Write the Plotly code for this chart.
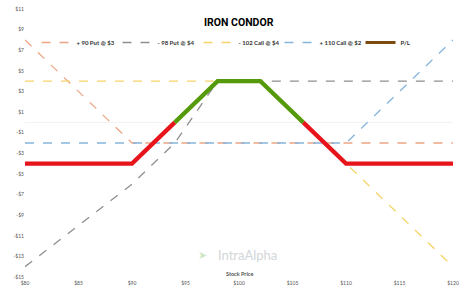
import plotly.graph_objects as go

# Stock prices (x) and payoff values
prices = [80, 90, 94, 98, 102, 106, 110, 120]
put90 = [8, -2, -2, -2, -2, -2, -2, -2]        # + 90 Put
put98 = [-14, -6, -2, 4, 4, 4, 4, 4]           # - 98 Put
call102 = [4, 4, 4, 4, 4, 0, -4, -14]          # - 102 Call
call110 = [-2, -2, -2, -2, -2, -2, -2, 8]      # + 110 Call
pl = [-4, -4, 0, 4, 4, 0, -4, -4]              # P/L

legend_names = ["+ 90 Put @ $3", "- 98 Put @ $4", "- 102 Call @ $4", "+ 110 Call @ $2", "P/L"]
x_ticks = [80, 85, 90, 95, 100, 105, 110, 115, 120]
x_ticktext = ["$80", "$85", "$90", "$95", "$100", "$105", "$110", "$115", "$120"]
y_ticks = [11, 9, 7, 5, 3, 1, -1, -3, -5, -7, -9, -11, -13, -15]
y_ticktext = ["$11", "$9", "$7", "$5", "$3", "$1", "-$1", "-$3", "-$5", "-$7", "-$9", "-$11", "-$13", "-$15"]

fig = go.Figure()
dash_series = [
    (put90, "#eba583"),
    (put98, "#8f8f8f"),
    (call102, "#f6d46a"),
    (call110, "#86b5dc"),
]
for (vals, col), name in zip(dash_series, legend_names[:4]):
    fig.add_trace(go.Scatter(x=prices, y=vals, mode="lines", name=name,
                             line=dict(color=col, width=1.3, dash="dash")))

RED = "#e8141b"
GREEN = "#559a0a"
fig.add_trace(go.Scatter(x=prices[0:3], y=pl[0:3], mode="lines", showlegend=False,
                         line=dict(color=RED, width=4.2)))
fig.add_trace(go.Scatter(x=prices[5:8], y=pl[5:8], mode="lines", showlegend=False,
                         line=dict(color=RED, width=4.2)))
fig.add_trace(go.Scatter(x=prices[2:6], y=pl[2:6], mode="lines", showlegend=False,
                         line=dict(color=GREEN, width=4.2)))
fig.add_trace(go.Scatter(x=[None], y=[None], mode="lines", name=legend_names[4],
                         line=dict(color="#7d4a10", width=3)))

fig.update_layout(
    width=474, height=294,
    margin=dict(l=25, r=21, t=6, b=17),
    paper_bgcolor="white", plot_bgcolor="white",
    font=dict(family="Lato, Open Sans, sans-serif", color="#555", size=5),
    showlegend=True,
    legend=dict(orientation="h", x=0.5, xanchor="center", y=0.875, yanchor="middle",
                font=dict(size=6, color="#333", family="Lato, sans-serif", weight="bold"),
                bgcolor="rgba(0,0,0,0)", itemwidth=30, tracegroupgap=0,
                entrywidth=36, entrywidthmode="pixels"),
    xaxis=dict(range=[80, 120], tickvals=x_ticks, ticktext=x_ticktext,
               showgrid=False, zeroline=False, showline=False, ticks="",
               tickfont=dict(size=5, color="#555"), ticklabelstandoff=2),
    yaxis=dict(range=[-15, 11], tickvals=y_ticks, ticktext=y_ticktext,
               showgrid=False, zeroline=True, zerolinecolor="#f2f2f2", zerolinewidth=1,
               showline=False, ticks="", tickfont=dict(size=5, color="#555")),
    annotations=[
        dict(text="<b>IRON CONDOR</b>", x=0.5, y=20, xref="paper", yref="paper",
             showarrow=False, font=dict(size=10.5, color="#000", family="Roboto, Arial, sans-serif")),
        dict(text="<b>Stock Price</b>", x=100, y=-14.7, xref="x", yref="y", showarrow=False,
             font=dict(size=5.5, color="#555")),
        dict(text="IntraAlpha", x=100.8, y=-12.9, xref="x", yref="y", showarrow=False,
             font=dict(size=13, color="#d2d6d9", family="Lato, sans-serif")),
        dict(text="➤", x=96.6, y=-12.8, xref="x", yref="y", showarrow=False,
             font=dict(size=11, color="#cfe8c4")),
    ],
)
# position title in pixel terms
fig.layout.annotations[0].update(y=(277 - 20) / 271, yanchor="middle")

fig.write_html("out.html")
